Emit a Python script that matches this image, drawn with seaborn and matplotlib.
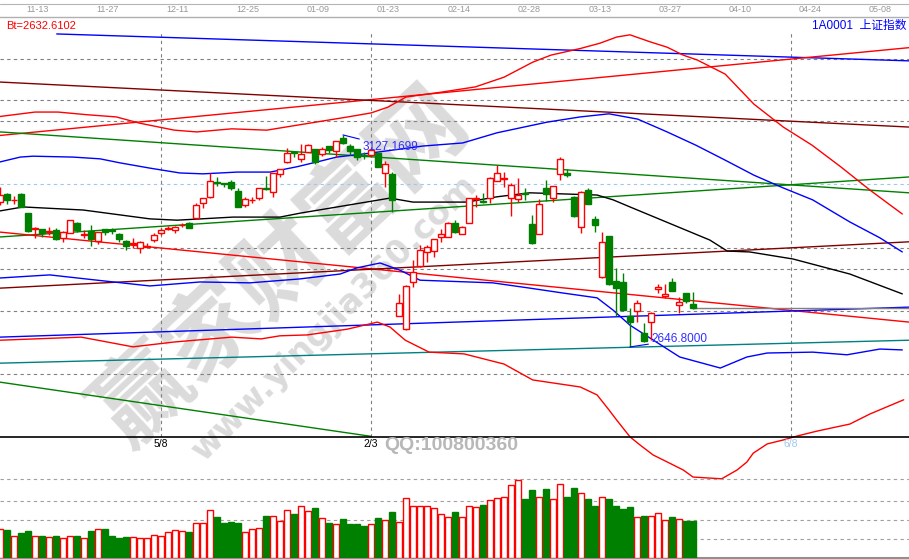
import numpy as np
import pandas as pd
import matplotlib
matplotlib.use("Agg")
import matplotlib.pyplot as plt
import matplotlib.transforms as mtransforms
from matplotlib.lines import Line2D
import seaborn as sns

W, H = 909, 559

# ---------------- data ----------------
date_labels = ["11-13", "11-27", "12-11", "12-25", "01-09", "01-23", "02-14",
               "02-28", "03-13", "03-27", "04-10", "04-24", "05-08"]
date_pos = [5.3, 15.4, 25.3, 35.4, 45.4, 55.4, 65.6, 75.6, 85.7, 95.8, 105.7, 115.7, 125.7]

opens = [2975, 2993, 2979, 2993, 2950, 2914, 2914, 2908, 2912, 2894,
         2905, 2928, 2901, 2909, 2887, 2914, 2912, 2903, 2887, 2881,
         2871, 2874, 2889, 2905, 2915, 2912, 2922, 2928, 2939, 2973,
         2987, 3020, 3018, 3020, 3000, 2968, 2979, 2984, 3007, 2998,
         3039, 3066, 3089, 3073, 3089, 3095, 3084, 3102, 3091, 3120,
         3102, 3095, 3082, 3082, 3086, 3041, 3039, 2717, 2687, 2794,
         2830, 2862, 2864, 2896, 2896, 2928, 2903, 2928, 2983, 2977,
         2984, 3023, 3028, 2984, 2982, 2996, 2925, 2903, 3007, 2984,
         3039, 3041, 2987, 2919, 3002, 2937, 2805, 2898, 2796, 2794,
         2717, 2728, 2678, 2703, 2778, 2762, 2794, 2742, 2769, 2744]
highs = [3009, 2995, 2989, 2996, 2951, 2919, 2915, 2919, 2916, 2909,
         2935, 2929, 2912, 2923, 2908, 2915, 2916, 2904, 2889, 2894,
         2886, 2882, 2905, 2916, 2921, 2921, 2928, 2930, 2973, 2985,
         3041, 3032, 3018, 3025, 3007, 2987, 2987, 3008, 3034, 3042,
         3051, 3098, 3091, 3107, 3107, 3096, 3100, 3103, 3114, 3127.17,
         3107, 3096, 3089, 3100, 3087, 3068, 3043, 2767, 2787, 2844,
         2878, 2878, 2892, 2914, 2929, 2934, 2920, 2985, 2991, 2996,
         3031, 3059, 3043, 3018, 3030, 3007, 2946, 2982, 3025, 3012,
         3077, 3050, 2988, 2999, 3007, 2943, 2907, 2899, 2826, 2814,
         2735, 2753, 2701, 2725, 2789, 2789, 2803, 2760, 2770, 2771]
lows = [2968, 2971, 2971, 2963, 2907, 2894, 2896, 2900, 2890, 2885,
        2904, 2907, 2894, 2875, 2880, 2900, 2903, 2885, 2866, 2871,
        2860, 2873, 2885, 2900, 2912, 2905, 2919, 2916, 2937, 2962,
        2984, 3011, 3009, 3002, 2963, 2964, 2973, 2980, 3002, 2987,
        3032, 3064, 3077, 3066, 3088, 3061, 3079, 3086, 3077, 3107,
        3082, 3070, 3073, 3077, 3054, 3009, 2953, 2716, 2686, 2783,
        2828, 2839, 2851, 2885, 2895, 2905, 2902, 2927, 2964, 2973,
        2973, 3022, 3009, 2943, 2975, 2980, 2880, 2902, 2978, 2975,
        3025, 3032, 2941, 2905, 2970, 2907, 2803, 2788, 2717, 2729,
        2646.8, 2703, 2659, 2662, 2769, 2758, 2773, 2724, 2746, 2733]
closes = [2991, 2980, 2980, 2964, 2909, 2916, 2905, 2909, 2891, 2907,
          2934, 2912, 2903, 2891, 2907, 2907, 2909, 2891, 2875, 2882,
          2885, 2875, 2900, 2912, 2916, 2919, 2923, 2916, 2968, 2984,
          3023, 3019, 3016, 3007, 2964, 2982, 2980, 3007, 3005, 3041,
          3050, 3086, 3086, 3084, 3104, 3066, 3095, 3093, 3113, 3109,
          3091, 3077, 3079, 3093, 3055, 3061, 2980, 2746, 2785, 2817,
          2866, 2873, 2891, 2903, 2928, 2907, 2919, 2984, 2984, 2975,
          3030, 3041, 3030, 3014, 2991, 2993, 2882, 2971, 2993, 3011,
          3073, 3036, 2943, 2998, 2971, 2923, 2885, 2789, 2780, 2730,
          2703, 2746, 2660, 2724, 2783, 2767, 2774, 2749, 2751, 2735]
volumes = [2900, 2750, 2200, 2450, 2650, 2150, 2150, 2100, 2200, 2000,
           2200, 2200, 2000, 2650, 2900, 2850, 2200, 1950, 2050, 2100,
           2000, 2000, 2300, 2200, 2600, 2800, 2700, 2550, 3500, 3500,
           4800, 4050, 3450, 3550, 3450, 2600, 2900, 3000, 4150, 4150,
           3650, 4800, 4350, 5200, 4650, 4950, 4000, 3450, 3400, 3850,
           3350, 3350, 3150, 3400, 3950, 3750, 4550, 3550, 6000, 5150,
           5200, 5150, 4950, 4400, 4100, 4550, 4100, 5200, 5100, 5250,
           5750, 6000, 6100, 7300, 7800, 5850, 6750, 6100, 6850, 5900,
           7400, 6050, 6950, 6500, 5850, 5150, 6100, 5850, 5150, 4850,
           5050, 4100, 4150, 4200, 4500, 3800, 4050, 3900, 3650, 3650]

high_price = 3127.1699
low_price = 2646.8000
bt_value = 2632.6102

grid_levels = [3300, 3206, 3159, 2871, 2823, 2728, 2585]
fib_level = 3016
vol_grid = [1850, 3750, 5650, 7820]

marker_pos = [23, 53, 113]
marker_labels = ["5/8", "2/3", "6/8"]

# straight trend lines: bar index / price at both ends
blue_top_x, blue_top_y = [8.1, 129.9], [3356, 3295]
red_rise_x, red_rise_y = [0, 129.9], [3126, 3325]
maroon_fall_x, maroon_fall_y = [0, 129.9], [3247, 3145]
green_fall_x, green_fall_y = [0, 129.9], [3134, 2996]
green_rise_x, green_rise_y = [0, 129.9], [2896, 3032]
red_fall_x, red_fall_y = [0, 129.9], [2907, 2703]
blue_rise_x, blue_rise_y = [0, 129.9], [2669, 2737]
maroon_rise_x, maroon_rise_y = [0, 129.9], [2780, 2885]
teal_rise_x, teal_rise_y = [0, 129.9], [2610, 2662]
green_low_x, green_low_y = [0, 53.1], [2567, 2444]

# curved bands
red_up_x = [0, 5, 8.3, 12.4, 16.6, 19.9, 24.9, 28.1, 33.1, 38.1, 43.9, 49.7, 53, 55.4,
            58, 63, 67.9, 72, 76.1, 78.7, 82.9, 85.7, 88.1, 90, 92.9, 95.3, 97.6, 99.6,
            103.6, 107.7, 111.9, 116, 120.1, 124.3, 128.9]
red_up_y = [3169, 3179, 3179, 3173, 3168, 3154, 3138, 3134, 3141, 3138, 3153, 3168, 3177, 3190,
            3213, 3224, 3236, 3258, 3292, 3308, 3323, 3335, 3349, 3354, 3338, 3326, 3308, 3297,
            3265, 3197, 3145, 3104, 3055, 3002, 2948]
blue_up_x = [0, 2.9, 4.7, 10.4, 14.3, 17.1, 21.4, 25.7, 29, 33.9, 38.6, 42.4, 45.3, 48.1,
             52.9, 60.4, 66.1, 71, 78.1, 82.9, 87, 91.1, 95.3, 99.4, 103.6, 107.7, 111.9,
             116.1, 121.4, 125.7, 128.9]
blue_up_y = [3066, 3077, 3079, 3077, 3073, 3064, 3052, 3041, 3039, 3043, 3043, 3055, 3066, 3077,
             3086, 3102, 3109, 3132, 3156, 3168, 3175, 3163, 3134, 3104, 3070, 3036, 3007,
             2980, 2930, 2894, 2862]
ma_x = [0, 3.3, 11.9, 21.4, 25.3, 33.3, 40, 42.9, 55.7, 59, 66.7, 71, 75.7, 85.3, 87.6,
        90, 101.4, 103.9, 107.1, 113.3, 121.4, 128.9]
ma_y = [2955, 2964, 2957, 2937, 2934, 2941, 2941, 2950, 2984, 2975, 2975, 2987, 2996, 2991, 2980,
        2964, 2889, 2864, 2862, 2846, 2812, 2767]
blue_lo_x = [0, 7.1, 13.9, 21.4, 28.6, 35.7, 42.9, 48.6, 51, 54.3, 57.1, 60, 70.4, 75.7,
             80.4, 85.3, 87.6, 90, 97.1, 102.9, 106.7, 109.6, 116.1, 121, 125.7, 128.9]
blue_lo_y = [2803, 2810, 2798, 2785, 2794, 2792, 2801, 2812, 2826, 2837, 2821, 2798, 2792, 2780,
             2769, 2758, 2730, 2696, 2624, 2599, 2624, 2633, 2635, 2629, 2642, 2640]
red_lo_x = [0, 11.6, 19, 24.9, 33.1, 37.3, 40, 43.9, 49.6, 53.9, 55.7, 57.9, 61.3, 66.3,
            72, 76.1, 82.9, 85.3, 87, 88.1, 90, 91.4, 93.3, 94.7, 97.6, 99, 101, 103.1,
            105.3, 106.7, 107.6, 109.6, 111.9, 113.9, 116.7, 121.4, 124.3, 129.1]
red_lo_y = [2662, 2669, 2647, 2658, 2669, 2665, 2672, 2674, 2687, 2703, 2692, 2662, 2635, 2631,
            2608, 2572, 2556, 2538, 2504, 2481, 2443, 2425, 2402, 2391, 2368, 2352, 2350, 2348,
            2368, 2386, 2406, 2427, 2436, 2445, 2456, 2472, 2495, 2527]

# ---------------- style ----------------
sns.set_theme(style="white")
plt.rcParams["font.family"] = ["Liberation Sans", "Noto Sans CJK SC", "DejaVu Sans"]

RED = "#ff0000"
GREEN = "#008000"
BLUE = "#0000ff"
MAROON = "#800000"
TEAL = "#008080"
GRAY = "#808080"
DASH = (0, (3, 3))

df = pd.DataFrame({"o": opens, "h": highs, "l": lows, "c": closes, "v": volumes})
df["k"] = np.arange(len(df))
up = df["c"] >= df["o"]
edge = np.where(up, RED, GREEN)
face = np.where(up, "white", GREEN)

fig = plt.figure(figsize=(W / 100, H / 100), dpi=100)
fig.patch.set_facecolor("white")
ax = fig.add_axes([0, (H - 437) / H, 1, 420 / H])
axv = fig.add_axes([0, 1.5 / H, 1, 120.5 / H], facecolor="none")

xmax = W / 7
ax.set_xlim(0, xmax)
ax.set_ylim(2442.7, 3394.4)
axv.set_xlim(0, xmax)
axv.set_ylim(0, 12050)

# watermark (under everything)
ax.text(282 / W, 1 - 268 / H, "赢家财富网", transform=fig.transFigure, rotation=43,
        ha="center", va="center", fontsize=68, fontweight="bold", color="#c8c8c8",
        alpha=0.65, family=["Noto Sans CJK SC"], zorder=0.5, clip_on=False)
ax.text(335 / W, 1 - 318 / H, "www.yingjia360.com", transform=fig.transFigure, rotation=45,
        ha="center", va="center", fontsize=24, fontweight="bold", color="#c8c8c8",
        alpha=0.65, family=["DejaVu Sans"], zorder=0.5, clip_on=False)

# grid levels
for lv in grid_levels:
    ax.axhline(lv, color=GRAY, lw=0.8, ls=DASH, zorder=1)
ax.axhline(fib_level, color="#9cc8f0", lw=0.8, ls=DASH, zorder=1)
for mp in marker_pos:
    ax.axvline(mp, ymax=(437 - 33) / 420, color=GRAY, lw=0.8, ls=DASH, zorder=1)
for lv in vol_grid:
    axv.axhline(lv, color="#a0a0a0", lw=0.8, ls=DASH, zorder=1)

# trend lines and bands
line_specs = [
    (blue_top_x, blue_top_y, BLUE), (red_rise_x, red_rise_y, RED),
    (maroon_fall_x, maroon_fall_y, MAROON), (green_fall_x, green_fall_y, GREEN),
    (green_rise_x, green_rise_y, GREEN), (red_fall_x, red_fall_y, RED),
    (blue_rise_x, blue_rise_y, BLUE), (maroon_rise_x, maroon_rise_y, MAROON),
    (teal_rise_x, teal_rise_y, TEAL), (green_low_x, green_low_y, GREEN),
    (red_up_x, red_up_y, RED), (blue_up_x, blue_up_y, BLUE),
    (ma_x, ma_y, "black"), (blue_lo_x, blue_lo_y, BLUE),
]
for xs, ys, c in line_specs:
    sns.lineplot(x=xs, y=ys, color=c, lw=1.0, ax=ax, estimator=None, zorder=2)
sns.lineplot(x=red_lo_x, y=red_lo_y, color=RED, lw=1.0, ax=ax, estimator=None, zorder=2)
ax.lines[-1].set_clip_on(False)

# last close line
ax.hlines(closes[-1], len(closes) - 1, xmax, color=GRAY, lw=1.0, zorder=2)

# candles
ax.vlines(df["k"], df["l"], df["h"], colors=edge, lw=1.0, zorder=4)
body_lo = np.minimum(df["o"], df["c"])
body_h = np.maximum((df["c"] - df["o"]).abs(), 1.2)
ax.bar(df["k"], body_h, bottom=body_lo, width=0.72, color=face, edgecolor=edge,
       linewidth=1.0, zorder=5)

# volume
axv.bar(df["k"], df["v"], width=0.78, color=face, edgecolor=edge, linewidth=1.0, zorder=3)

# extreme labels
k_hi = int(np.argmax(highs))
k_lo = int(np.argmin(lows))
ax.annotate(f"{high_price:.4f}", xy=(k_hi, high_price), xytext=(k_hi + 2.8, high_price - 27),
            color="#3030ff", fontsize=8.5, va="center", ha="left", zorder=6,
            arrowprops=dict(arrowstyle="-", color=BLUE, lw=0.8, shrinkA=0, shrinkB=0))
ax.annotate(f"{low_price:.4f}", xy=(k_lo, low_price), xytext=(k_lo + 3.1, low_price + 17),
            color="#3030ff", fontsize=8.5, va="center", ha="left", zorder=6,
            arrowprops=dict(arrowstyle="-", color=BLUE, lw=0.8, shrinkA=0, shrinkB=0))

# marker labels under the price panel
trans = mtransforms.blended_transform_factory(ax.transData, ax.transAxes)
for mp, lab, c in zip(marker_pos, marker_labels, ["black", "black", "#9cc8f0"]):
    ax.text(mp, -7 / 420, lab, transform=trans, ha="center", va="center",
            fontsize=7.5, color=c, clip_on=False, zorder=6)

# axes cosmetics
ax.set_xticks(date_pos)
ax.set_xticklabels(date_labels)
ax.tick_params(axis="x", top=True, labeltop=True, bottom=False, labelbottom=False,
               length=0, pad=2, labelsize=6.5, labelcolor="#999999")
ax.set_yticks([])
axv.set_xticks([])
axv.set_yticks([])
for s in ["left", "right"]:
    ax.spines[s].set_visible(False)
ax.spines["top"].set_color("#b0b0b0")
ax.spines["top"].set_linewidth(1.0)
ax.spines["bottom"].set_color("black")
ax.spines["bottom"].set_linewidth(1.2)
for s in ["left", "right", "top"]:
    axv.spines[s].set_visible(False)
axv.spines["bottom"].set_color("#909090")
axv.spines["bottom"].set_linewidth(1.5)

# header texts
fig.text(6 / W, 1 - 26 / H, f"Bt={bt_value:.4f}", color=RED, fontsize=8, ha="left", va="center")
fig.text(907 / W, 1 - 26 / H, "1A0001  上证指数", color=BLUE, fontsize=8.5, ha="right", va="center")
fig.text(451 / W, 1 - 445 / H, "QQ:100800360", color="#b8b8b8", fontsize=14,
         fontweight="bold", ha="center", va="center")
fig.add_artist(Line2D([0, 1], [1 - 4 / H, 1 - 4 / H], color="#b5b5b5", lw=0.8))

fig.savefig("out.png", dpi=100, facecolor="white")
